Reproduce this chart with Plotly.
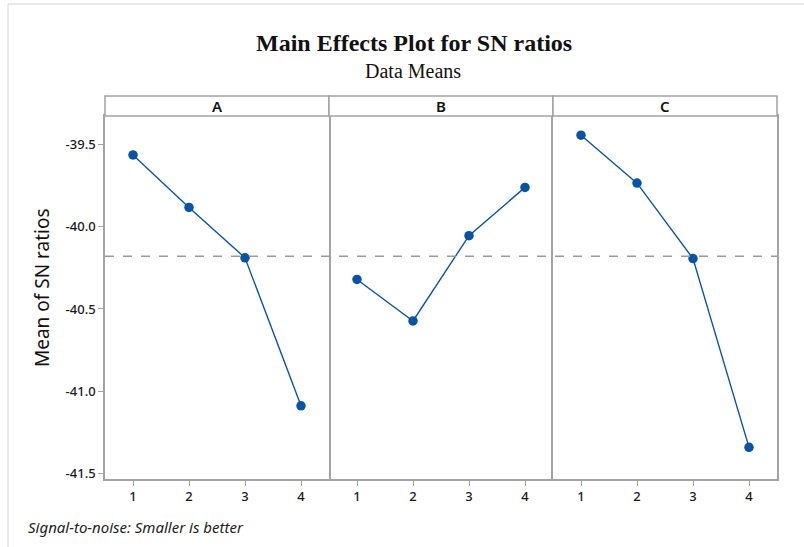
import plotly.graph_objects as go
from plotly.subplots import make_subplots
import numpy as np

factors = ["A", "B", "C"]
levels = [1, 2, 3, 4]
sn_A = [-39.561, -39.881, -40.188, -41.090]
sn_B = [-40.320, -40.573, -40.053, -39.759]
sn_C = [-39.441, -39.733, -40.193, -41.343]
y_ticks = [-39.5, -40.0, -40.5, -41.0, -41.5]
series = [sn_A, sn_B, sn_C]
grand_mean = float(np.mean(sn_A + sn_B + sn_C))

W, H = 804, 547
L, R, T, B = 105, 27, 116, 68
pw, ph = W - L - R, H - T - B

def px(x):
    return (x - L) / pw

def py(y):
    return (H - B - y) / ph

BLUE = "#0754a4"
GRAY = "#a3a3a3"
FONT = "Noto Sans"

fig = make_subplots(rows=1, cols=3, shared_yaxes=True, horizontal_spacing=0)

for i, vals in enumerate(series):
    fig.add_trace(go.Scatter(
        x=levels, y=vals, mode="lines+markers",
        line=dict(color=BLUE, width=1.4),
        marker=dict(color=BLUE, size=9.5),
        showlegend=False, hoverinfo="x+y"), row=1, col=i + 1)
    fig.update_xaxes(range=[0.5, 4.5], tickvals=levels, ticktext=[str(v) for v in levels],
                     showline=True, mirror=True, linecolor=GRAY, linewidth=1.5,
                     ticks="outside", ticklen=5, tickcolor=GRAY, tickwidth=1.2,
                     showgrid=False, zeroline=False,
                     tickfont=dict(family=FONT, size=13, color="#1a1a1a", weight=500),
                     row=1, col=i + 1)
    fig.update_yaxes(range=[-41.536, -39.324], tickvals=y_ticks,
                     ticktext=[f"{v:.1f}" for v in y_ticks],
                     showline=(i != 1), mirror=True, linecolor=GRAY, linewidth=1.5,
                     showgrid=False, zeroline=False,
                     ticks="outside" if i == 0 else "", ticklen=5, tickcolor=GRAY, tickwidth=1.2,
                     showticklabels=(i == 0),
                     tickfont=dict(family=FONT, size=13, color="#1a1a1a", weight=500),
                     row=1, col=i + 1)

# reference (grand mean) line
fig.add_shape(type="line", xref="paper", yref="y", x0=0, x1=1, y0=grand_mean, y1=grand_mean,
              line=dict(color="#9a9a9a", width=1.5, dash="dash"))

# panel header strips
xnames = ["x", "x2", "x3"]
for i, f in enumerate(factors):
    fig.add_shape(type="rect", xref=f"{xnames[i]} domain", yref="paper",
                  x0=0, x1=1, y0=1, y1=py(96),
                  line=dict(color=GRAY, width=1.5), fillcolor="white")
    fig.add_annotation(xref=f"{xnames[i]} domain", yref="paper", x=0.5, y=py(106),
                       text=f, showarrow=False,
                       font=dict(family=FONT, size=15, color="#111", weight=600),
                       xanchor="center", yanchor="middle")

# outer light frame
fig.add_shape(type="line", xref="paper", yref="paper", x0=px(8), x1=px(820), y0=py(4), y1=py(4),
              line=dict(color="#d4d4d4", width=1))
fig.add_shape(type="line", xref="paper", yref="paper", x0=px(8), x1=px(8), y0=py(4), y1=py(560),
              line=dict(color="#d4d4d4", width=1))

# titles
fig.add_annotation(xref="paper", yref="paper", x=px(414), y=py(43),
                   text="<b>Main Effects Plot for SN ratios</b>", showarrow=False,
                   font=dict(family="Liberation Serif", size=24, color="#111"),
                   xanchor="center", yanchor="middle")
fig.add_annotation(xref="paper", yref="paper", x=px(413), y=py(71),
                   text="Data Means", showarrow=False,
                   font=dict(family="Liberation Serif", size=20, color="#111"),
                   xanchor="center", yanchor="middle")
fig.add_annotation(xref="paper", yref="paper", x=px(42), y=py(288),
                   text="Mean of SN ratios", showarrow=False, textangle=-90,
                   font=dict(family=FONT, size=19, color="#111"),
                   xanchor="center", yanchor="middle")
fig.add_annotation(xref="paper", yref="paper", x=px(26), y=py(527),
                   text="<i>Signal-to-noise: Smaller is better</i>", showarrow=False,
                   font=dict(family=FONT, size=15, color="#222"),
                   xanchor="left", yanchor="middle")

fig.update_layout(width=W, height=H, margin=dict(l=L, r=R, t=T, b=B),
                  paper_bgcolor="white", plot_bgcolor="white")

fig.write_html("out.html", config={"displayModeBar": False},
               post_script="document.body.style.margin='0';document.body.style.padding='0';")
